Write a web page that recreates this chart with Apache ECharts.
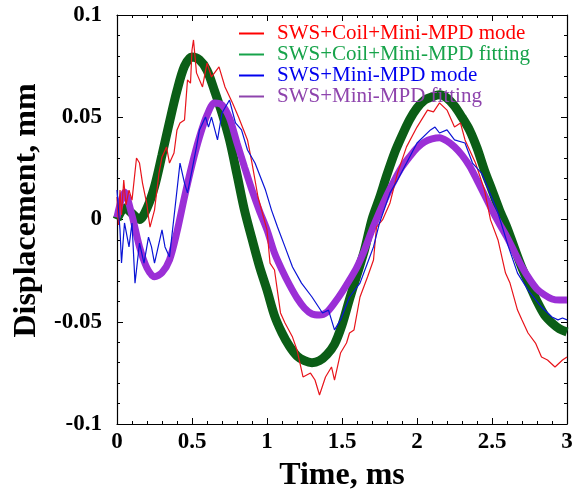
<!DOCTYPE html>
<html><head><meta charset="utf-8">
<script src="https://cdn.jsdelivr.net/npm/echarts@6/dist/echarts.min.js"></script>
<style>html,body{margin:0;padding:0;background:#fff}#c{width:575px;height:497px}</style>
</head><body><div id="c"></div>
<script>
var xTicks = [0, 0.5, 1, 1.5, 2, 2.5, 3];
var yTicks = [-0.1, -0.05, 0, 0.05, 0.1];
var seriesNames = ['SWS+Coil+Mini-MPD mode', 'SWS+Coil+Mini-MPD fitting', 'SWS+Mini-MPD mode', 'SWS+Mini-MPD fitting'];

var redT = [0,0.01,0.02,0.03,0.045,0.06,0.08,0.1,0.13,0.15,0.17,0.2,0.21,0.22,0.25,0.28,0.3,0.33,0.35,0.38,0.4,0.42,0.45,0.47,0.49,0.5,0.51,0.53,0.57,0.6,0.63,0.68,0.72,0.77,0.81,0.87,0.9,0.94,1.0,1.02,1.05,1.09,1.12,1.17,1.2,1.24,1.29,1.32,1.35,1.39,1.43,1.45,1.49,1.53,1.55,1.58,1.62,1.67,1.71,1.73,1.77,1.82,1.87,1.93,2.0,2.07,2.11,2.15,2.2,2.25,2.29,2.32,2.39,2.45,2.49,2.54,2.59,2.62,2.67,2.7,2.74,2.79,2.83,2.87,2.92,2.97,3.0];
var redV = [0.011,-0.0027,0.0144,0.0022,0.0193,0.0071,0.0144,0.0095,0.0301,0.0276,0.0178,0.0071,0.0012,-0.0037,0.0046,0.0227,0.0306,0.0355,0.0276,0.0325,0.0438,0.0472,0.0487,0.0682,0.0667,0.0829,0.0878,0.0717,0.0648,0.0765,0.0697,0.0746,0.0648,0.057,0.0501,0.0389,0.0276,0.011,-0.0051,-0.0213,-0.0247,-0.0457,-0.0506,-0.0575,-0.0638,-0.077,-0.0751,-0.0785,-0.0858,-0.077,-0.0721,-0.0785,-0.0653,-0.0604,-0.0555,-0.054,-0.0379,-0.0281,-0.0198,-0.0037,-0.0002,0.0081,0.0227,0.0355,0.0452,0.0535,0.0526,0.057,0.0535,0.0452,0.0472,0.0389,0.0276,0.0144,-0.0002,-0.01,-0.0262,-0.0311,-0.0443,-0.0492,-0.0555,-0.0604,-0.0672,-0.0687,-0.0721,-0.0687,-0.0672];

var blueT = [0,0.02,0.03,0.05,0.08,0.1,0.12,0.15,0.18,0.21,0.23,0.25,0.3,0.32,0.35,0.38,0.4,0.42,0.45,0.47,0.5,0.53,0.55,0.59,0.61,0.63,0.67,0.7,0.75,0.79,0.83,0.87,0.92,0.99,1.03,1.07,1.12,1.17,1.23,1.3,1.37,1.41,1.45,1.49,1.55,1.62,1.67,1.71,1.75,1.82,1.87,1.93,2.0,2.09,2.12,2.15,2.2,2.25,2.32,2.37,2.43,2.47,2.54,2.61,2.67,2.74,2.83,2.9,2.94,2.97,3.0];
var blueV = [0.0144,-0.0051,-0.0213,-0.0017,-0.0134,-0.0017,-0.0311,-0.0115,-0.0213,-0.0086,-0.0134,-0.0213,-0.0051,-0.0134,-0.0183,0.0012,0.0144,0.0276,0.0178,0.013,0.0242,0.0355,0.0438,0.0501,0.0452,0.0501,0.0389,0.0521,0.0584,0.0472,0.0438,0.034,0.0276,0.0144,0.0046,-0.0037,-0.0134,-0.0232,-0.0311,-0.0379,-0.0457,-0.0443,-0.054,-0.0491,-0.0379,-0.0311,-0.0213,-0.0134,-0.0017,0.013,0.0193,0.0276,0.0374,0.0438,0.0452,0.0423,0.0438,0.0389,0.0374,0.0276,0.0227,0.0159,0.0032,-0.0134,-0.0262,-0.0345,-0.0428,-0.0477,-0.0491,-0.0482,-0.0491];

var fitT = [0,0.05,0.1,0.15,0.2,0.25,0.3,0.35,0.4,0.45,0.5,0.55,0.6,0.65,0.7,0.75,0.8,0.85,0.9,0.95,1.0,1.05,1.1,1.15,1.2,1.25,1.3,1.35,1.4,1.45,1.5,1.55,1.6,1.65,1.7,1.75,1.8,1.85,1.9,1.95,2.0,2.05,2.1,2.15,2.2,2.25,2.3,2.35,2.4,2.45,2.5,2.55,2.6,2.65,2.7,2.75,2.8,2.85,2.9,2.95,3.0];
var greenV = [0,0.0056,0.003,0,0.0056,0.016,0.0315,0.0477,0.063,0.075,0.0795,0.078,0.073,0.063,0.052,0.039,0.022,0.0045,-0.0095,-0.023,-0.0345,-0.047,-0.0555,-0.062,-0.0667,-0.069,-0.070,-0.069,-0.066,-0.061,-0.0516,-0.039,-0.027,-0.015,0,0.0105,0.022,0.0325,0.041,0.0487,0.0545,0.0584,0.060,0.061,0.0594,0.0555,0.050,0.0438,0.035,0.024,0.0144,0.0046,-0.004,-0.014,-0.0237,-0.032,-0.040,-0.0467,-0.0506,-0.0535,-0.055];
var purpleV = [0.001,0.0134,0.002,-0.0134,-0.0237,-0.028,-0.026,-0.0198,-0.006,0.011,0.0267,0.0403,0.051,0.057,0.056,0.0496,0.0374,0.0257,0.0144,0.0042,-0.0051,-0.0164,-0.0247,-0.032,-0.0384,-0.0433,-0.0462,-0.0467,-0.0452,-0.0408,-0.0355,-0.0296,-0.0232,-0.0149,-0.0051,0.0037,0.012,0.0193,0.0257,0.0306,0.035,0.0379,0.0394,0.040,0.0384,0.0355,0.0315,0.0262,0.0193,0.012,0.0046,-0.0022,-0.0086,-0.0159,-0.0232,-0.0291,-0.034,-0.0369,-0.0389,-0.0394,-0.0394];

function pairs(t, v) { return t.map(function (x, i) { return [x, v[i]]; }); }

var FONT = '"Liberation Serif", "Times New Roman", serif';
var axisLine = { show: true, onZero: false, lineStyle: { color: '#000', width: 1.2 } };
var tick = { show: true, inside: true, length: 6, lineStyle: { color: '#000', width: 1 } };
var minor = { show: true, splitNumber: 5, length: 3, lineStyle: { color: '#000', width: 1 } };
var labelStyle = { fontFamily: FONT, fontWeight: 'bold', fontSize: 23, color: '#000' };

var chart = echarts.init(document.getElementById('c'), null, { renderer: 'canvas' });
chart.setOption({
  backgroundColor: '#fff',
  animation: false,
  grid: { left: 117, right: 8, top: 15, bottom: 73, containLabel: false, outerBoundsMode: 'none' },
  legend: {
    orient: 'vertical', left: 234, top: 18, itemWidth: 25, itemHeight: 2, itemGap: 0,
    icon: 'rect',
    textStyle: { fontFamily: FONT, fontSize: 21, lineHeight: 19, padding: [0, 0, 0, 8] },
    data: [
      { name: seriesNames[0], itemStyle: { color: '#ff0000' }, textStyle: { color: '#ff0000' } },
      { name: seriesNames[1], itemStyle: { color: '#17a34a' }, textStyle: { color: '#17a34a' } },
      { name: seriesNames[2], itemStyle: { color: '#0000ee' }, textStyle: { color: '#0000ee' } },
      { name: seriesNames[3], itemStyle: { color: '#8e44ad' }, textStyle: { color: '#8e44ad' } }
    ]
  },
  xAxis: [{
    type: 'value', min: xTicks[0], max: xTicks[xTicks.length - 1], interval: xTicks[1] - xTicks[0],
    axisLine: axisLine, axisTick: tick, minorTick: minor, splitLine: { show: false },
    axisLabel: Object.assign({ margin: 7, formatter: function (v) { return String(+v.toFixed(2)); } }, labelStyle),
    name: 'Time, ms', nameLocation: 'middle', nameGap: 36,
    nameTextStyle: { fontFamily: FONT, fontWeight: 'bold', fontSize: 32, color: '#000' }
  }, {
    type: 'value', position: 'top', min: xTicks[0], max: xTicks[xTicks.length - 1], interval: xTicks[1] - xTicks[0],
    axisLine: axisLine, axisTick: tick, minorTick: minor, splitLine: { show: false }, axisLabel: { show: false }
  }],
  yAxis: [{
    type: 'value', min: yTicks[0], max: yTicks[yTicks.length - 1], interval: yTicks[1] - yTicks[0],
    axisLine: axisLine, axisTick: tick, minorTick: minor, splitLine: { show: false },
    axisLabel: Object.assign({ margin: 15, formatter: function (v) { return String(+v.toFixed(3)); } }, labelStyle),
    name: 'Displacement, mm', nameLocation: 'middle', nameGap: 71, nameRotate: 90,
    nameTextStyle: { fontFamily: FONT, fontWeight: 'bold', fontSize: 32, color: '#000', padding: [0, 0, 0, 18] }
  }, {
    type: 'value', position: 'right', min: yTicks[0], max: yTicks[yTicks.length - 1], interval: yTicks[1] - yTicks[0],
    axisLine: axisLine, axisTick: tick, minorTick: minor, splitLine: { show: false }, axisLabel: { show: false }
  }],
  series: [
    { name: seriesNames[0], type: 'line', data: pairs(redT, redV), showSymbol: false, symbol: 'none', z: 3,
      lineStyle: { color: '#e8141b', width: 1.2 }, itemStyle: { color: '#e8141b' } },
    { name: seriesNames[1], type: 'line', data: pairs(fitT, greenV), showSymbol: false, symbol: 'none', smooth: 0.3, z: 2,
      lineStyle: { color: '#0b5e16', width: 9 }, itemStyle: { color: '#0b5e16' } },
    { name: seriesNames[2], type: 'line', data: pairs(blueT, blueV), showSymbol: false, symbol: 'none', z: 3,
      lineStyle: { color: '#0a14d6', width: 1.2 }, itemStyle: { color: '#0a14d6' } },
    { name: seriesNames[3], type: 'line', data: pairs(fitT, purpleV), showSymbol: false, symbol: 'none', smooth: 0.3, z: 2,
      lineStyle: { color: '#9b2fd6', width: 7 }, itemStyle: { color: '#9b2fd6' } }
  ]
});
</script></body></html>
